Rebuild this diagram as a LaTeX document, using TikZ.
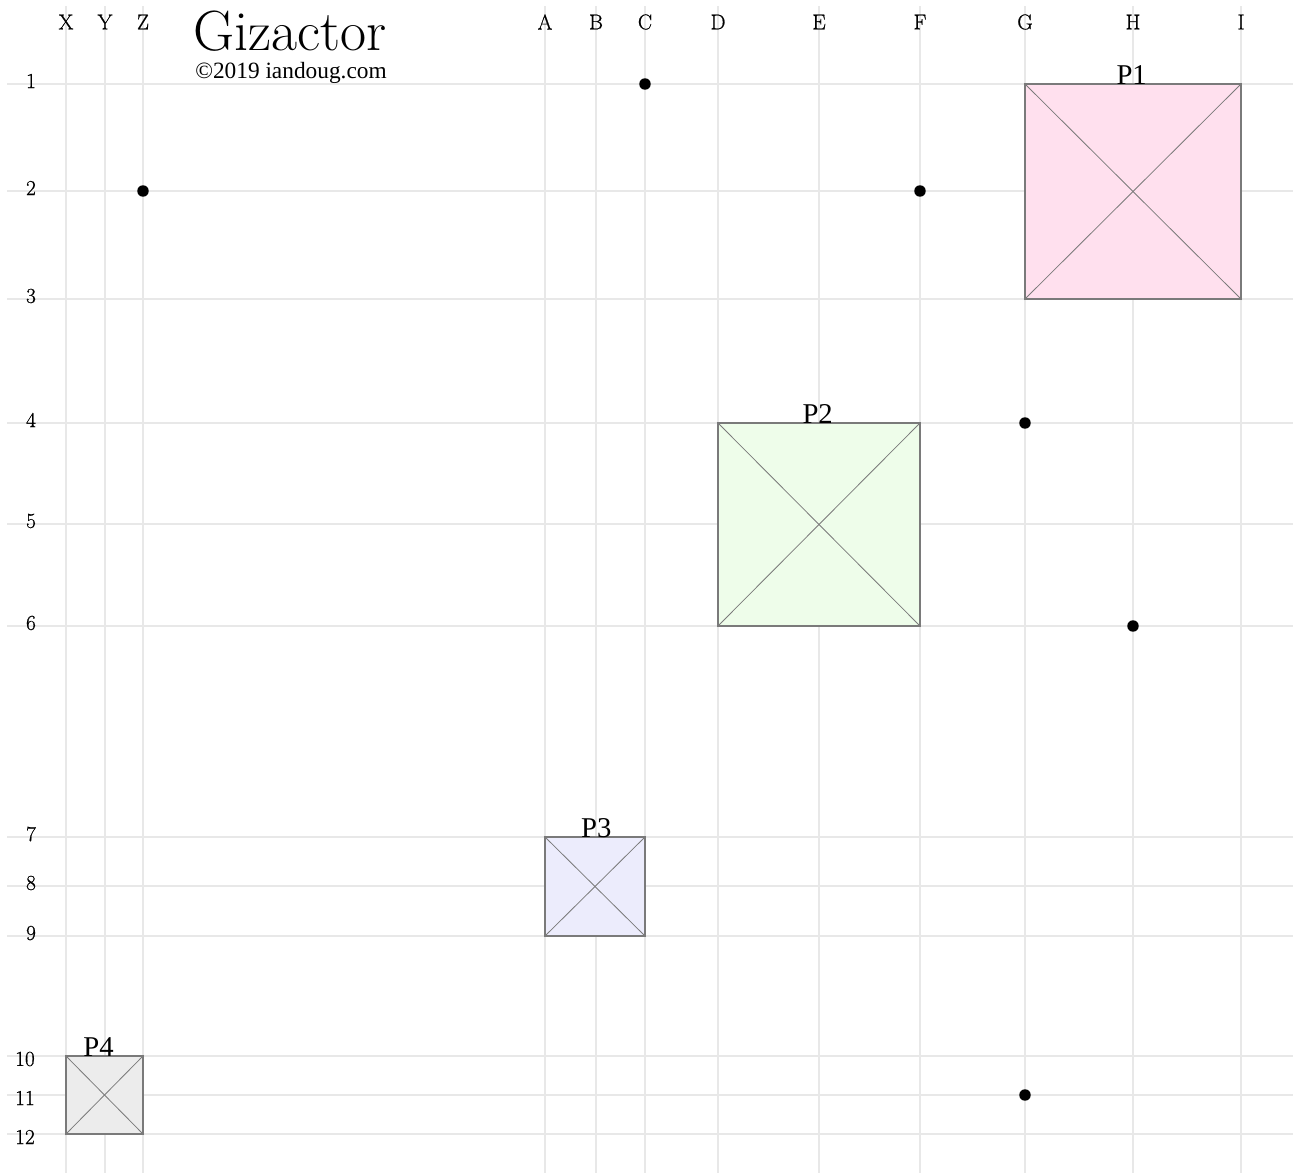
\documentclass[tikz,border=0pt]{standalone}
\usepackage{fontspec}
\newfontfamily\tms{Liberation Serif}
\newfontfamily\lmheavy{Latin Modern Roman}[FakeBold=0.7]
\usetikzlibrary{fit}
\definecolor{gridc}{HTML}{E8E8E8}
\definecolor{edgec}{HTML}{7A7A7A}
\definecolor{pinkf}{HTML}{FFE0EE}
\definecolor{greenf}{HTML}{EEFDEA}
\definecolor{lavf}{HTML}{ECECFC}
\definecolor{grayf}{HTML}{ECECEC}
\tikzset{
  gridline/.style={draw=gridc, line width=1.4pt},
  collab/.style={font=\lmheavy\fontsize{16}{18}\selectfont, inner sep=0pt},
  rowlab/.style={font=\lmheavy\fontsize{16}{18}\selectfont, inner sep=0pt},
  sq/.style={draw=edgec, line width=1.1pt, inner sep=0pt},
  diag/.style={draw=edgec, line width=0.6pt},
  plabel/.style={font=\tms\fontsize{21.5}{23}\selectfont, inner sep=0pt, anchor=south},
  pt/.style={circle, fill=black, inner sep=0pt, minimum size=8.6pt}
}
\begin{document}
\begin{tikzpicture}[x=0.75pt, y=-0.75pt]
\useasboundingbox (0,0) rectangle (1293,1173);
% vertical grid lines
\foreach \x/\l in {66/X,105/Y,143/Z,545/A,596/B,645/C,718/D,819/E,920/F,1025/G,1133/H,1241/I}{
  \draw[gridline] (\x,6) -- (\x,1173);
  \node[collab] (col\l) at (\x,22) {\l};
}
% horizontal grid lines
\foreach \y/\l in {84/1,191/2,299/3,423/4,524/5,626/6,837/7,886/8,936/9}{
  \draw[gridline] (7,\y) -- (1293,\y);
  \node[rowlab] (row\l) at (31,\y-3) {\l};
}
\foreach \y/\l in {1056/10,1095/11,1134/12}{
  \draw[gridline] (7,\y) -- (1293,\y);
  \node[rowlab] (row\l) at (25,\y+3) {\l};
}
% title
\node[anchor=base west, inner sep=0pt, text depth=0pt, font=\fontsize{42.5}{45}\selectfont] (title) at (193,51) {Gizactor};
\node[anchor=base west, inner sep=0pt, text height=9pt, font=\tms\fontsize{17.5}{19}\selectfont] (copy) at (195,79) {©2019 iandoug.com};
% squares
\coordinate (p1a) at (1025,84); \coordinate (p1b) at (1241,299);
\coordinate (p2a) at (718,423); \coordinate (p2b) at (920,626);
\coordinate (p3a) at (545,837); \coordinate (p3b) at (645,936);
\coordinate (p4a) at (66,1056); \coordinate (p4b) at (143,1134);
\node[sq, fill=pinkf, fit=(p1a)(p1b)] (P1) {};
\node[sq, fill=greenf, fit=(p2a)(p2b)] (P2) {};
\node[sq, fill=lavf, fit=(p3a)(p3b)] (P3) {};
\node[sq, fill=grayf, fit=(p4a)(p4b)] (P4) {};
\foreach \p in {P1,P2,P3,P4}{
  \draw[diag] (\p.north west) -- (\p.south east);
  \draw[diag] (\p.south west) -- (\p.north east);
}
\node[plabel] (l1) at ([xshift=-1pt,yshift=-1pt]P1.north) {P1};
\node[plabel] (l2) at ([xshift=-1pt,yshift=-1pt]P2.north) {P2};
\node[plabel] (l3) at ([xshift=1pt,yshift=-1pt]P3.north) {P3};
\node[plabel] (l4) at ([xshift=-4.5pt,yshift=-1pt]P4.north) {P4};
% dots
\node[pt] (dC1) at (645,84) {};
\node[pt] (dZ2) at (143,191) {};
\node[pt] (dF2) at (920,191) {};
\node[pt] (dG4) at (1025,423) {};
\node[pt] (dH6) at (1133,626) {};
\node[pt] (dG11) at (1025,1095) {};
\end{tikzpicture}
\end{document}
